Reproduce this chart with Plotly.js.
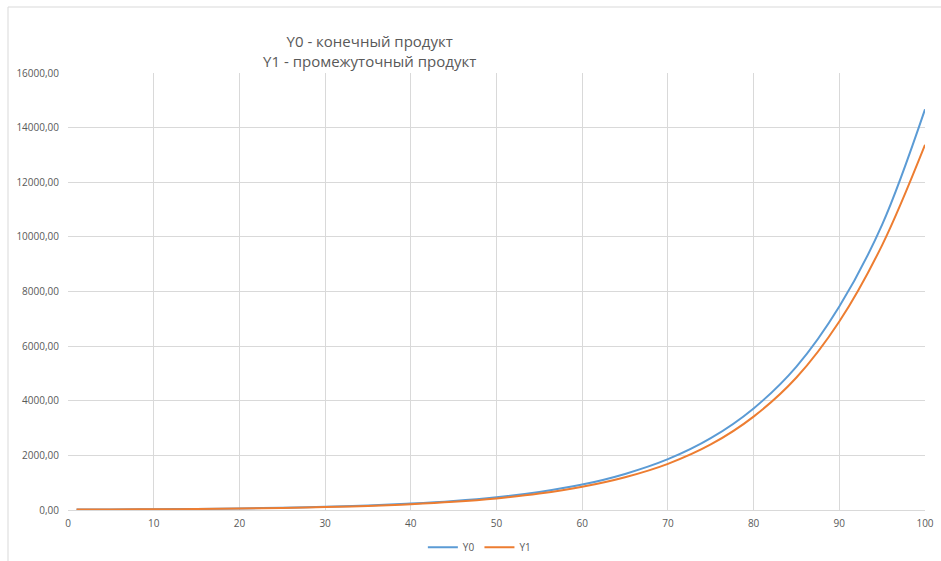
<!DOCTYPE html>
<html>
<head>
<meta charset="utf-8">
<script src="https://cdn.plot.ly/plotly-3.0.1.min.js"></script>
<style>html,body{margin:0;padding:0;background:#fff;}#chart{width:941px;height:561px;}</style>
</head>
<body>
<div id="chart"></div>
<script>
// Periods (x axis)
const periods = [1, 5, 10, 15, 20, 25, 30, 35, 40, 45, 50, 55, 60, 65, 70, 75, 80, 85, 90, 95, 100];
// Y0 - final product
const y0Values = [16, 21, 29, 41, 59, 83, 117, 166, 234, 330, 467, 660, 930, 1320, 1860, 2630, 3720, 5250, 7450, 10450, 14670];
// Y1 - intermediate product
const y1Values = [14, 19, 26, 37, 53, 75, 106, 150, 212, 300, 425, 600, 850, 1200, 1690, 2400, 3420, 4850, 6900, 9700, 13370];
const seriesNames = ['Y0', 'Y1'];
const titleLines = ['Y0 - конечный продукт', 'Y1 - промежуточный продукт'];
const xTickVals = [0, 10, 20, 30, 40, 50, 60, 70, 80, 90, 100];
const yTickVals = [0, 2000, 4000, 6000, 8000, 10000, 12000, 14000, 16000];

const font = 'Open Sans, Noto Sans, sans-serif';
const grey = '#595959';
const grid = '#d9d9d9';

const traces = [
  {x: periods, y: y0Values, name: seriesNames[0], type: 'scatter', mode: 'lines',
   line: {color: '#5b9bd5', width: 2, shape: 'spline', smoothing: 1}},
  {x: periods, y: y1Values, name: seriesNames[1], type: 'scatter', mode: 'lines',
   line: {color: '#ed7d31', width: 2, shape: 'spline', smoothing: 1}}
];

const layout = {
  width: 941, height: 561,
  margin: {l: 68, r: 16, t: 73, b: 51, autoexpand: false},
  paper_bgcolor: '#fff', plot_bgcolor: '#fff',
  separators: ',.',
  showlegend: true,
  title: {
    text: titleLines.join('<br>'),
    font: {family: font, size: 15, color: grey},
    x: 0.352, xref: 'paper', xanchor: 'center',
    y: 1 - 47 / 561, yref: 'container', yanchor: 'top'
  },
  xaxis: {
    range: [0, 100], tickvals: xTickVals, showgrid: true, gridcolor: grid, gridwidth: 1,
    zeroline: false, showline: true, linecolor: grid, linewidth: 1, ticks: '',
    ticklabelstandoff: 4,
    tickfont: {family: font, size: 10, color: grey}, fixedrange: true
  },
  yaxis: {
    range: [0, 16000], tickvals: yTickVals, tickformat: '.2f', showgrid: true, gridcolor: grid, gridwidth: 1,
    zeroline: false, showline: false, ticks: '',
    ticklabelstandoff: 8,
    tickfont: {family: font, size: 10, color: grey}, fixedrange: true
  },
  legend: {
    orientation: 'h', x: 0.48, xanchor: 'center', y: -0.085, yanchor: 'middle',
    font: {family: font, size: 10, color: grey}, itemwidth: 30
  },
  shapes: [
    {type: 'line', xref: 'paper', yref: 'paper', x0: (8 - 68) / 857, x1: (941 - 68) / 857,
     y0: (510 - 7) / 437, y1: (510 - 7) / 437, line: {color: grid, width: 1}},
    {type: 'line', xref: 'paper', yref: 'paper', x0: (8 - 68) / 857, x1: (8 - 68) / 857,
     y0: (510 - 7) / 437, y1: (510 - 561) / 437, line: {color: grid, width: 1}}
  ]
};

Plotly.newPlot('chart', traces, layout, {staticPlot: true, displayModeBar: false});
</script>
</body>
</html>
